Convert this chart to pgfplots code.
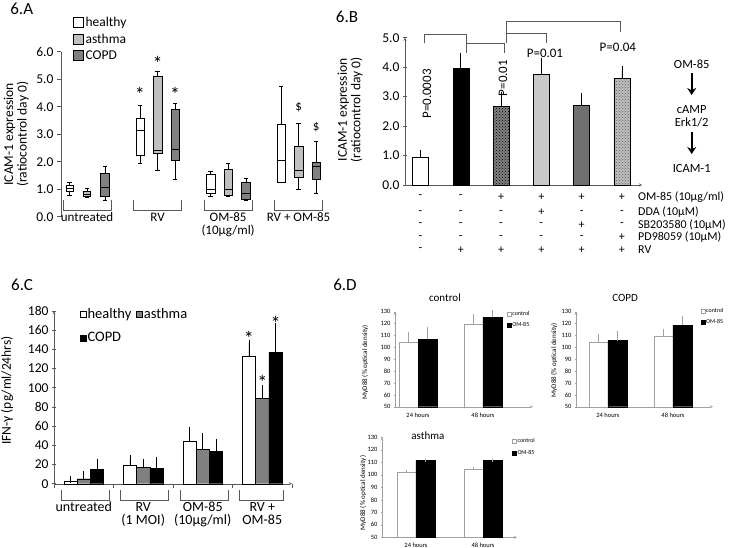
\documentclass[border=0pt]{standalone}
\usepackage{fontspec}
\setmainfont{Carlito}
\usepackage{pgfplots}
\pgfplotsset{compat=1.18}
\usepgfplotslibrary{statistics}
\usetikzlibrary{arrows.meta,patterns}
\newcommand{\fs}[1]{\fontsize{#1}{#1}\selectfont}
\definecolor{axgray}{HTML}{595959}
\definecolor{lgray}{HTML}{C0C0C0}
\definecolor{mgray}{HTML}{808080}
\definecolor{bgray}{HTML}{C8C8C8}
\definecolor{dgray}{HTML}{707070}
\definecolor{dlines}{HTML}{A0A0A0}
\pgfplotsset{
  base/.style={scale only axis, clip=false, anchor=south west,
    /pgf/number format/assume math mode=true,
    axis line style={axgray,-}, tick style={axgray,line width=0.6pt},
    tick align=outside, major tick length=4pt,
    tick label style={font=\fs{13.5}}, label style={font=\fs{13.5}},
    legend cell align=left},
  oneDec/.style={yticklabel style={/pgf/number format/.cd,fixed,fixed zerofill,precision=1}},
  sqA/.style={legend image code/.code={\draw[##1] (0pt,-5pt) rectangle (10pt,5pt);}},
  sqC/.style={legend image code/.code={\draw[##1] (0pt,-3pt) rectangle (6pt,3pt);}},
  sqD/.style={legend image code/.code={\draw[##1,line width=0.3pt] (0pt,-2pt) rectangle (4pt,2pt);}},
  ebars/.style 2 args={/pgfplots/error bars/y dir=plus, /pgfplots/error bars/y explicit,
    /pgfplots/error bars/error bar style={#1,line width=0.6pt},
    /pgfplots/error bars/error mark options={#1,line width=0.6pt,mark size=#2}},
  Dbase/.style={base, ymin=50, ymax=130, ytick={50,60,...,130}, ybar=0pt, bar width=19pt,
    axis lines=left, axis line style={dlines}, tick style={dlines,line width=0.4pt}, major tick length=2pt,
    tick label style={font=\fs{6.5}}, xtick={0,1}, xticklabels={24 hours,48 hours},
    x tick style={draw=none}, xticklabel style={yshift=-1.5pt},
    ylabel={MyD88 (\% optical density)}, label style={font=\fs{7}},
    title style={font=\fs{11}, anchor=center, yshift=0pt},
    legend style={draw=none, fill=none, font=\fs{6}, inner sep=0pt, row sep=4pt, nodes={inner sep=1pt}},
    ebars={dlines}{1.5pt}},
}
\newcommand{\trow}[8]{%
 \node[inner sep=1pt] at (axis cs:0,#1) {#2};\node[inner sep=1pt] at (axis cs:1,#1) {#3};\node[inner sep=1pt] at (axis cs:2,#1) {#4};%
 \node[inner sep=1pt] at (axis cs:3,#1) {#5};\node[inner sep=1pt] at (axis cs:4,#1) {#6};\node[inner sep=1pt] at (axis cs:5,#1) {#7};%
 \node[anchor=west,inner sep=0pt] at (axis cs:5.4,#1) {#8};}
\begin{document}
\begin{tikzpicture}[font=\fs{13}]
\useasboundingbox (0,0) rectangle (733pt,-548pt);
\begin{pgfinterruptboundingbox}
% ---------------- 6.A
\node[font=\fs{17}] at (21.7pt,-9pt) {6.A};
\begin{axis}[base, oneDec, sqA, at={(61pt,-216.7pt)}, width=265.8pt, height=165pt,
  xmin=-0.37, xmax=3.4, ymin=0, ymax=6,
  axis x line=none, axis y line*=left, xtick=\empty,
  ytick={0,1,2,3,4,5,6},
  ylabel={ICAM-1 expression\\(ratiocontrol day 0)},
  ylabel style={align=center, at={(axis description cs:-0.168,0.5)}, anchor=center},
  boxplot/draw direction=y,
  boxplot/box extend=0.12, boxplot/whisker extend=0.06,
  legend style={at={(axis description cs:0.045,1.225)}, anchor=north west, draw=none, fill=none,
     font=\fs{13.5}, inner sep=0pt, row sep=2pt, nodes={inner sep=2pt}},
]
\addlegendimage{draw=black, fill=white}\addlegendentry{healthy}
\addlegendimage{draw=black, fill=lgray}\addlegendentry{asthma}
\addlegendimage{draw=black, fill=mgray}\addlegendentry{COPD}
% untreated
\addplot[forget plot, draw=black, fill=white, boxplot prepared={draw position=-0.25, box extend=0.1, lower whisker=0.79, lower quartile=0.91, median=1.03, upper quartile=1.13, upper whisker=1.24}] coordinates {};
\addplot[forget plot, draw=black, fill=lgray, boxplot prepared={draw position=0, box extend=0.1, lower whisker=0.70, lower quartile=0.73, median=0.82, upper quartile=0.91, upper whisker=1.03}] coordinates {};
\addplot[forget plot, draw=black, fill=mgray, boxplot prepared={draw position=0.25, box extend=0.14, lower whisker=0.61, lower quartile=0.73, median=1.09, upper quartile=1.58, upper whisker=1.84}] coordinates {};
% RV
\addplot[forget plot, draw=black, fill=white, boxplot prepared={draw position=0.75, lower whisker=1.94, lower quartile=2.24, median=3.15, upper quartile=3.58, upper whisker=4.04}] coordinates {};
\addplot[forget plot, draw=black, fill=lgray, boxplot prepared={draw position=1, lower whisker=1.70, lower quartile=2.30, median=2.42, upper quartile=5.10, upper whisker=5.30}] coordinates {};
\addplot[forget plot, draw=black, fill=mgray, boxplot prepared={draw position=1.25, lower whisker=1.37, lower quartile=2.04, median=2.45, upper quartile=3.90, upper whisker=4.12}] coordinates {};
% OM-85
\addplot[forget plot, draw=black, fill=white, boxplot prepared={draw position=1.75, lower whisker=0.73, lower quartile=0.85, median=1.00, upper quartile=1.54, upper whisker=1.64}] coordinates {};
\addplot[forget plot, draw=black, fill=lgray, boxplot prepared={draw position=2, lower whisker=0.76, lower quartile=0.79, median=1.00, upper quartile=1.71, upper whisker=1.93}] coordinates {};
\addplot[forget plot, draw=black, fill=mgray, boxplot prepared={draw position=2.25, lower whisker=0.60, lower quartile=0.65, median=0.85, upper quartile=1.27, upper whisker=1.39}] coordinates {};
% RV + OM-85
\addplot[forget plot, draw=black, fill=white, boxplot prepared={draw position=2.75, lower whisker=1.24, lower quartile=1.27, median=2.06, upper quartile=3.37, upper whisker=4.76}] coordinates {};
\addplot[forget plot, draw=black, fill=lgray, boxplot prepared={draw position=3, lower whisker=0.99, lower quartile=1.45, median=1.70, upper quartile=2.57, upper whisker=3.39}] coordinates {};
\addplot[forget plot, draw=black, fill=mgray, boxplot prepared={draw position=3.25, lower whisker=0.87, lower quartile=1.36, median=1.84, upper quartile=1.98, upper whisker=2.75}] coordinates {};
% annotations
\node[font=\fs{20}] at (axis cs:0.75,4.45) {*};
\node[font=\fs{20}] at (axis cs:1,5.58) {*};
\node[font=\fs{20}] at (axis cs:1.25,4.45) {*};
\node at (axis cs:3,3.99) {\$};
\node at (axis cs:3.25,3.26) {\$};
\draw[axgray] (axis cs:-0.34,0.61) -- (axis cs:-0.34,0.24) -- (axis cs:0.34,0.24) -- (axis cs:0.34,0.61);
\draw[axgray] (axis cs:0.66,0.61) -- (axis cs:0.66,0.24) -- (axis cs:1.34,0.24) -- (axis cs:1.34,0.61);
\draw[axgray] (axis cs:1.66,0.61) -- (axis cs:1.66,0.24) -- (axis cs:2.34,0.24) -- (axis cs:2.34,0.61);
\draw[axgray] (axis cs:2.66,0.61) -- (axis cs:2.66,0.24) -- (axis cs:3.34,0.24) -- (axis cs:3.34,0.61);
\node[anchor=base] at (axis cs:0,-0.19) {untreated};
\node[anchor=base] at (axis cs:1,-0.19) {RV};
\node[anchor=base] at (axis cs:2,-0.19) {OM-85};
\node[anchor=base] at (axis cs:2,-0.64) {(10µg/ml)};
\node[anchor=base] at (axis cs:3,-0.19) {RV + OM-85};
\end{axis}
% ---------------- 6.B
\node[font=\fs{17}] at (347pt,-17pt) {6.B};
\begin{axis}[base, oneDec, at={(405pt,-185pt)}, width=237pt, height=147.3pt,
  xmin=-0.385, xmax=5.5, ymin=0, ymax=5,
  axis lines=left, xtick=\empty, ytick={0,1,2,3,4,5},
  ylabel={ICAM-1 expression\\(ratiocontrol day 0)},
  ylabel style={align=center, at={(axis description cs:-0.232,0.51)}, anchor=center},
  every axis plot/.append style={ybar, bar width=16pt, bar shift=0pt, draw=black, ebars={black}{4pt}},
]
\addplot[fill=white] coordinates {(0,0.96) +- (0,0.08)};
\addplot[fill=black] coordinates {(1,3.96) +- (0,0.40)};
\addplot[fill=black!50, postaction={pattern=crosshatch dots, pattern color=black}] coordinates {(2,2.68) +- (0,0.35)};
\addplot[fill=bgray] coordinates {(3,3.76) +- (0,0.43)};
\addplot[fill=dgray] coordinates {(4,2.71) +- (0,0.29)};
\addplot[fill=black!25, postaction={pattern=crosshatch dots, pattern color=black!65}] coordinates {(5,3.62) +- (0,0.27)};
\draw[axgray,line width=0.7pt] (axis cs:0.095,4.81) -- (axis cs:0.095,5.11) -- (axis cs:1.137,5.11) -- (axis cs:1.137,4.47);
\draw[axgray,line width=0.7pt] (axis cs:1.137,4.81) -- (axis cs:2.08,4.81) -- (axis cs:2.08,4.47);
\draw[axgray,line width=0.7pt] (axis cs:2.12,4.81) -- (axis cs:2.12,5.54) -- (axis cs:4.95,5.54) -- (axis cs:4.95,5.2);
\draw[axgray,line width=0.7pt] (axis cs:2.12,5.15) -- (axis cs:3.12,5.15) -- (axis cs:3.12,4.81);
\node[rotate=90] at (axis cs:0.16,3.09) {P=0.0003};
\node[rotate=90] at (axis cs:2.05,3.63) {P=0.01};
\node at (axis cs:3.09,4.48) {P=0.01};
\node at (axis cs:4.9,4.68) {P=0.04};
\begin{scope}[font=\fs{12}]
\trow{-0.41}{-}{-}{+}{+}{+}{+}{OM-85 (10µg/ml)}
\trow{-0.92}{-}{-}{-}{+}{-}{-}{DDA (10µM)}
\trow{-1.36}{-}{-}{-}{-}{+}{-}{SB203580 (10µM)}
\trow{-1.78}{-}{-}{-}{-}{-}{+}{PD98059 (10µM)}
\trow{-2.2}{-}{+}{+}{+}{+}{+}{RV}
\end{scope}
\end{axis}
\node[font=\fs{12.5}] at (691.7pt,-64pt) {OM-85};
\draw[line width=2pt,-{Stealth[length=7pt,width=9pt]}] (691.7pt,-73pt) -- (691.7pt,-95pt);
\node[font=\fs{12.5}] at (691.7pt,-110pt) {cAMP};
\node[font=\fs{12.5}] at (691.7pt,-122pt) {Erk1/2};
\draw[line width=2pt,-{Stealth[length=7pt,width=9pt]}] (691.7pt,-132pt) -- (691.7pt,-154pt);
\node[font=\fs{12.5}] at (691.7pt,-168pt) {ICAM-1};
% ---------------- 6.C
\node[font=\fs{17}] at (22pt,-285pt) {6.C};
\begin{axis}[base, at={(54pt,-483.7pt)}, width=238pt, height=172.7pt,
  xmin=-0.5, xmax=3.5, ymin=0, ymax=180,
  axis lines=left, xtick={-0.5,0.5,1.5,2.5,3.5}, xticklabels={{},{},{},{},{}},
  ytick={0,20,...,180},
  ylabel={IFN-γ (pg/ml/24hrs)},
  ylabel style={at={(axis description cs:-0.197,0.54)}, anchor=center},
  ybar=0pt, bar width=13.3pt,
  legend columns=2,
  legend style={at={(axis description cs:0.109,1.02)}, anchor=north west, draw=none, fill=none,
     font=\fs{14.5}, inner sep=0pt, row sep=10pt, nodes={inner sep=1pt}, /tikz/column 2/.style={column sep=4pt}},
]
\addplot[draw=black, fill=white, sqC, ebars={black}{3.5pt}] coordinates {(0,2.4) +- (0,1.8) (1,19.8) +- (0,6.2) (2,44.4) +- (0,11.1) (3,132.8) +- (0,13.6)};
\addlegendentry{healthy}
\addplot[draw=black, fill=mgray, sqC, ebars={black}{3.5pt}] coordinates {(0,5.2) +- (0,4.2) (1,17.3) +- (0,5.2) (2,36.1) +- (0,13.2) (3,88.8) +- (0,10.7)};
\addlegendentry{asthma}
\addplot[draw=black, fill=black, sqC, ebars={black}{3.5pt}] coordinates {(0,14.6) +- (0,7.9) (1,16.3) +- (0,8.0) (2,33.6) +- (0,9.8) (3,136.7) +- (0,27.0)};
\addlegendentry{COPD}
\node[font=\fs{20}] at (axis cs:2.7765,151) {*};
\node[font=\fs{20}] at (axis cs:3,106) {*};
\node[font=\fs{20}] at (axis cs:3.2235,167) {*};
\draw[axgray] (axis cs:-0.38,-6.6) -- (axis cs:-0.38,-17) -- (axis cs:0.42,-17) -- (axis cs:0.42,-6.6);
\draw[axgray] (axis cs:0.62,-6.6) -- (axis cs:0.62,-17) -- (axis cs:1.42,-17) -- (axis cs:1.42,-6.6);
\draw[axgray] (axis cs:1.62,-6.6) -- (axis cs:1.62,-17) -- (axis cs:2.42,-17) -- (axis cs:2.42,-6.6);
\draw[axgray] (axis cs:2.62,-6.6) -- (axis cs:2.62,-17) -- (axis cs:3.36,-17) -- (axis cs:3.36,-6.6);
\node[anchor=base,font=\fs{14}] at (axis cs:0,-29) {untreated};
\node[anchor=base,font=\fs{14}] at (axis cs:1,-29) {RV};
\node[anchor=base,font=\fs{14}] at (axis cs:1,-42) {(1 MOI)};
\node[anchor=base,font=\fs{14}] at (axis cs:2,-29) {OM-85};
\node[anchor=base,font=\fs{14}] at (axis cs:2,-42) {(10µg/ml)};
\node[anchor=base,font=\fs{14}] at (axis cs:3,-29) {RV +};
\node[anchor=base,font=\fs{14}] at (axis cs:3,-42) {OM-85};
\end{axis}
% ---------------- 6.D
\node[font=\fs{17}] at (345pt,-285pt) {6.D};
\begin{axis}[Dbase, at={(395pt,-406.7pt)}, width=138pt, height=95pt,
  xmin=-0.354, xmax=1.77, title={control},
  title style={at={(axis description cs:0.362,1.081)}},
  ylabel style={at={(axis description cs:-0.217,0.47)}, anchor=center},
  legend style={at={(axis description cs:0.81,1.02)}, anchor=north west},
]
\addplot[draw=dlines, fill=white, sqD] coordinates {(0,104.2) +- (0,7.6) (1,119.4) +- (0,7.8)};
\addlegendentry{control}
\addplot[draw=black, fill=black, sqD] coordinates {(0,106.7) +- (0,9.3) (1,125.3) +- (0,4.7)};
\addlegendentry{OM-85}
\end{axis}
\begin{axis}[Dbase, at={(576pt,-406.7pt)}, width=137pt, height=95pt,
  xmin=-0.49, xmax=1.615, title={COPD},
  title style={at={(axis description cs:0.358,1.081)}},
  ylabel style={at={(axis description cs:-0.16,0.49)}, anchor=center},
  legend style={at={(axis description cs:0.91,1.05)}, anchor=north west},
]
\addplot[draw=dlines, fill=white, sqD] coordinates {(0,104.7) +- (0,5.1) (1,109.5) +- (0,4.5)};
\addlegendentry{control}
\addplot[draw=black, fill=black, sqD] coordinates {(0,105.6) +- (0,6.7) (1,118.8) +- (0,6.5)};
\addlegendentry{OM-85}
\end{axis}
\begin{axis}[Dbase, at={(382pt,-537.3pt)}, width=135pt, height=100pt,
  xmin=-0.507, xmax=1.507, title={asthma},
  title style={at={(axis description cs:0.34,0.953)}},
  ylabel style={at={(axis description cs:-0.14,0.443)}, anchor=center},
  legend style={at={(axis description cs:0.963,1.0)}, anchor=north west},
]
\addplot[draw=dlines, fill=white, sqD] coordinates {(0,102.2) +- (0,0.8) (1,104.6) +- (0,0.8)};
\addlegendentry{control}
\addplot[draw=black, fill=black, sqD] coordinates {(0,111.4) +- (0,0.4) (1,111.3) +- (0,0.4)};
\addlegendentry{OM-85}
\end{axis}
\end{pgfinterruptboundingbox}
\end{tikzpicture}
\end{document}
